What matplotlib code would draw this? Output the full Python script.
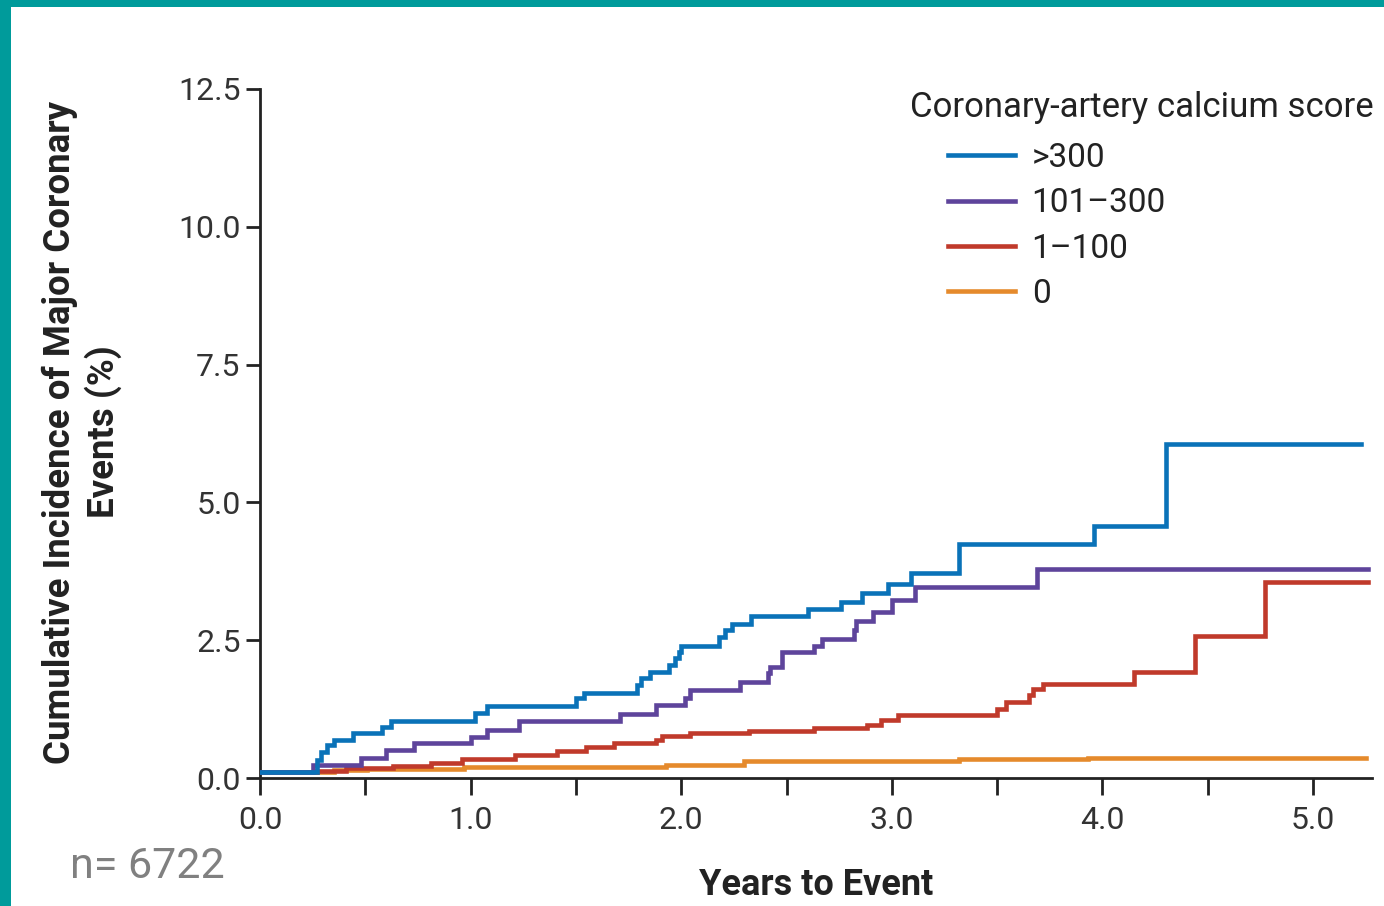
import matplotlib
matplotlib.use("Agg")
import matplotlib.pyplot as plt
from matplotlib.patches import Rectangle
from matplotlib.lines import Line2D

# ── data (years, cumulative incidence %) ────────────────────────────────────
t_gt300 = [0, 0.27, 0.29, 0.32, 0.35, 0.44, 0.58, 0.62, 1.02, 1.08, 1.50, 1.54,
           1.79, 1.81, 1.85, 1.94, 1.97, 1.99, 2.00, 2.18, 2.21, 2.24, 2.33,
           2.60, 2.76, 2.86, 2.98, 3.09, 3.32, 3.96, 4.30, 5.23]
v_gt300 = [0.1, 0.33, 0.48, 0.60, 0.69, 0.82, 0.93, 1.04, 1.18, 1.31, 1.45, 1.54,
           1.69, 1.81, 1.93, 2.05, 2.18, 2.29, 2.39, 2.55, 2.68, 2.79, 2.93,
           3.06, 3.19, 3.35, 3.52, 3.72, 4.25, 4.57, 6.06, 6.06]

t_101_300 = [0, 0.25, 0.48, 0.60, 0.73, 1.00, 1.08, 1.23, 1.71, 1.88, 2.02, 2.04,
             2.28, 2.41, 2.42, 2.48, 2.63, 2.67, 2.82, 2.83, 2.91, 3.00, 3.11,
             3.69, 5.26]
v_101_300 = [0.1, 0.24, 0.37, 0.51, 0.63, 0.75, 0.87, 1.04, 1.17, 1.32, 1.45, 1.60,
             1.75, 1.90, 2.02, 2.28, 2.40, 2.53, 2.68, 2.84, 3.02, 3.23, 3.47,
             3.80, 3.80]

t_1_100 = [0, 0.27, 0.41, 0.63, 0.81, 0.96, 1.21, 1.41, 1.55, 1.68, 1.88, 1.91,
           2.04, 2.32, 2.63, 2.88, 2.95, 3.03, 3.50, 3.54, 3.65, 3.67, 3.72,
           4.15, 4.44, 4.77, 5.26]
v_1_100 = [0.1, 0.13, 0.18, 0.22, 0.28, 0.34, 0.42, 0.49, 0.57, 0.63, 0.69, 0.76,
           0.82, 0.86, 0.90, 0.96, 1.05, 1.14, 1.26, 1.38, 1.51, 1.61, 1.71,
           1.93, 2.58, 3.56, 3.56]

t_zero = [0, 0.35, 0.51, 0.97, 1.93, 2.30, 3.32, 3.93, 5.25]
v_zero = [0.1, 0.15, 0.17, 0.20, 0.24, 0.30, 0.35, 0.37, 0.37]

labels = [">300", "101\u2013300", "1\u2013100", "0"]
colors = ["#0A72B8", "#5E449B", "#C03A2B", "#E58A2C"]

y_ticks = [0.0, 2.5, 5.0, 7.5, 10.0, 12.5]
x_ticks = [0, 1, 2, 3, 4, 5]
x_minor = [0.5, 1.5, 2.5, 3.5, 4.5]

FONT = ["Liberation Sans Narrow", "Roboto", "DejaVu Sans"]
plt.rcParams["font.family"] = FONT

W, H = 1384, 906
fig = plt.figure(figsize=(W / 100, H / 100), dpi=100)
ax = fig.add_axes([260 / W, 1 - 778 / H, 1112 / W, 689 / H])

series = [(t_zero, v_zero), (t_1_100, v_1_100), (t_101_300, v_101_300), (t_gt300, v_gt300)]
for i, (t, v) in enumerate(series):
    ax.plot(t, v, drawstyle="steps-post", color=colors[3 - i], linewidth=3.3,
            solid_joinstyle="miter", zorder=2 + i)

ax.set_xlim(0, 5.28)
ax.set_ylim(0, 12.5)
ax.set_xticks(x_ticks)
ax.set_xticklabels([f"{x:.1f}" for x in x_ticks])
ax.set_xticks(x_minor, minor=True)
ax.set_yticks(y_ticks)
ax.set_yticklabels([f"{y:.1f}" for y in y_ticks])

for s in ["top", "right"]:
    ax.spines[s].set_visible(False)
for s in ["left", "bottom"]:
    ax.spines[s].set_linewidth(2.0)
    ax.spines[s].set_color("#222222")

ax.tick_params(axis="x", which="both", direction="out", length=12, width=2,
               color="#222222", pad=8, labelsize=23, labelcolor="#333333")
ax.tick_params(axis="y", direction="out", length=10, width=2,
               color="#222222", pad=4, labelsize=23, labelcolor="#333333")

# axis titles placed in figure pixels
fig.text(82 / W, 1 - 432 / H, "Cumulative Incidence of Major Coronary\nEvents (%)",
         rotation=90, ha="center", va="center", multialignment="center",
         fontsize=26.4, fontweight="bold", color="#222222", linespacing=1.2)
fig.text(816 / W, 1 - 885 / H, "Years to Event", ha="center", va="center",
         fontsize=26, fontweight="bold", color="#222222")

# legend: title as separate text so the entries sit indented under it
fig.text(910 / W, 1 - 107 / H, "Coronary-artery calcium score",
         fontsize=25, color="#222222", ha="left", va="center")
handles = [Line2D([], [], color=c, linewidth=3.3) for c in colors]
ax.legend(handles, labels, loc="upper left",
          bbox_to_anchor=(948 / W, 1 - 142 / H),
          bbox_transform=fig.transFigure, frameon=False, fontsize=24,
          handlelength=2.0, handletextpad=0.51, labelspacing=0.40,
          borderpad=0, borderaxespad=0, labelcolor="#222222")

fig.text(70 / W, 1 - 866 / H, "n= 6722", fontsize=31, color="#808080",
         ha="left", va="center")

# teal frame on the left and top edges
teal = "#009B9B"
fig.patches.append(Rectangle((0, 0), 11 / W, 1, transform=fig.transFigure,
                             facecolor=teal, edgecolor="none", zorder=10))
fig.patches.append(Rectangle((0, 1 - 7 / H), 1, 7 / H, transform=fig.transFigure,
                             facecolor=teal, edgecolor="none", zorder=10))

fig.savefig("out.png", dpi=100)
